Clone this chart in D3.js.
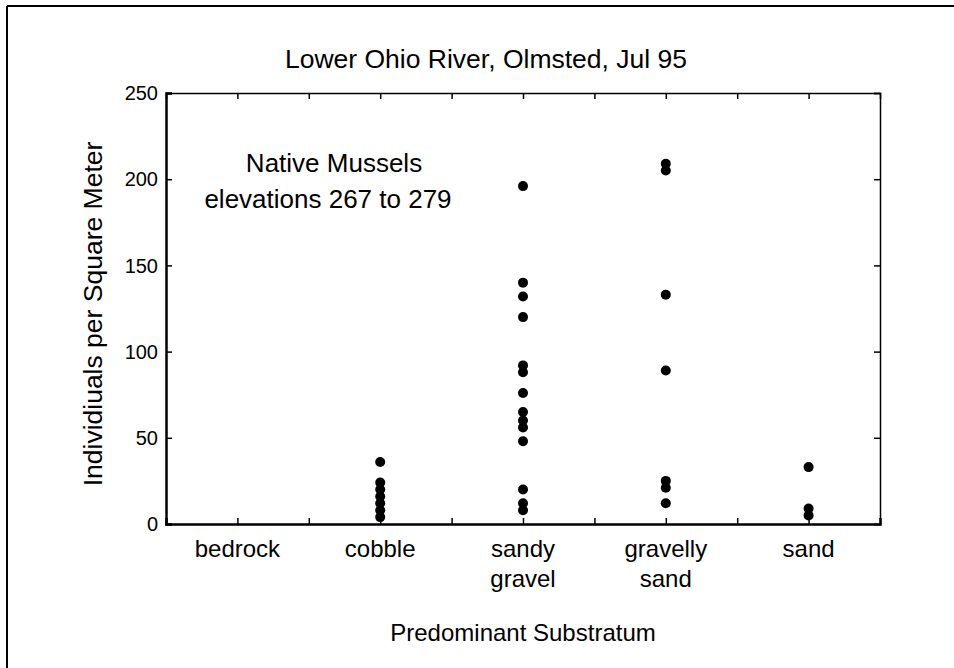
<!DOCTYPE html>
<html>
<head>
<meta charset="utf-8">
<script src="https://cdn.jsdelivr.net/npm/d3@7"></script>
<style>
  body { margin: 0; background: #fff; }
  svg text { font-family: Arial, "Liberation Sans", Helvetica, sans-serif; fill: #000; }
</style>
</head>
<body>
<div id="chart"></div>
<script>
// categories sit on the odd positions of a 0..10 axis
const categories = ["bedrock", "cobble", "sandy gravel", "gravelly sand", "sand"];
const categoryPos = [1, 3, 5, 7, 9];

// densities, one array per substratum
const bedrock = [];
const cobble = [36, 24, 20, 16, 12, 8, 4];
const sandyGravel = [196, 140, 132, 120, 92, 88, 76, 65, 60, 56, 48, 20, 12, 8];
const gravellySand = [209, 205, 133, 89, 25, 21, 12];
const sand = [33, 9, 5];

const yTicks = [0, 50, 100, 150, 200, 250];

const width = 954, height = 668;
const margin = { top: 93, right: 74, bottom: 144, left: 166 };

const svg = d3.select("#chart").append("svg")
    .attr("width", width)
    .attr("height", height);

// outer frame, only top and left edges show
svg.append("line").attr("x1", 7).attr("x2", width).attr("y1", 6).attr("y2", 6)
    .attr("stroke", "#000").attr("stroke-width", 2);
svg.append("line").attr("x1", 7).attr("x2", 7).attr("y1", 6).attr("y2", height)
    .attr("stroke", "#000").attr("stroke-width", 2);

const x = d3.scaleLinear().domain([0, 10]).range([margin.left, width - margin.right]);
const y = d3.scaleLinear().domain([0, 250]).range([height - margin.bottom, margin.top]);

const xTickVals = d3.range(1, 10);

// axes, ticks pointing into the plot
svg.append("g")
    .attr("transform", "translate(0," + y(0) + ")")
    .call(d3.axisTop(x).tickValues(xTickVals).tickSize(6).tickFormat(""))
    .call(g => g.select(".domain").attr("stroke-width", 2.5));

svg.append("g")
    .attr("transform", "translate(0," + y(250) + ")")
    .call(d3.axisBottom(x).tickValues(xTickVals).tickSize(6).tickFormat(""))
    .call(g => g.select(".domain").attr("stroke-width", 1.5));

svg.append("g")
    .attr("transform", "translate(" + x(0) + ",0)")
    .call(d3.axisRight(y).tickValues(yTicks).tickSize(6).tickFormat(""))
    .call(g => g.select(".domain").attr("stroke-width", 2.5));

svg.append("g")
    .attr("transform", "translate(" + x(10) + ",0)")
    .call(d3.axisLeft(y).tickValues(yTicks).tickSize(6).tickFormat(""))
    .call(g => g.select(".domain").attr("stroke-width", 1.5));

svg.selectAll("g.tick line").attr("stroke-width", 1.5);
svg.selectAll(".domain").attr("stroke", "#000");

// y tick labels
svg.append("g").selectAll("text")
    .data(yTicks)
    .join("text")
    .attr("x", x(0) - 8)
    .attr("y", d => y(d))
    .attr("dy", "0.36em")
    .attr("text-anchor", "end")
    .style("font-size", "20px")
    .text(d => d);

// category labels, split on the space
const catLabels = svg.append("g").selectAll("text")
    .data(categories)
    .join("text")
    .attr("x", (d, i) => x(categoryPos[i]))
    .attr("y", 557)
    .attr("text-anchor", "middle")
    .style("font-size", "24px");

catLabels.selectAll("tspan")
    .data(d => d.split(" "))
    .join("tspan")
    .attr("x", function () { return d3.select(this.parentNode).attr("x"); })
    .attr("dy", (d, i) => i === 0 ? 0 : 30)
    .text(d => d);

// points
const series = [bedrock, cobble, sandyGravel, gravellySand, sand];
const points = [];
series.forEach((vals, i) => vals.forEach(v => points.push({ pos: categoryPos[i], value: v })));

svg.append("g").selectAll("circle")
    .data(points)
    .join("circle")
    .attr("cx", d => x(d.pos))
    .attr("cy", d => y(d.value))
    .attr("r", 5)
    .attr("fill", "#000");

// texts
svg.append("text")
    .attr("x", 486)
    .attr("y", 68)
    .attr("text-anchor", "middle")
    .style("font-size", "26.5px")
    .text("Lower Ohio River, Olmsted, Jul 95");

svg.append("text")
    .attr("x", 334)
    .attr("y", 172)
    .attr("text-anchor", "middle")
    .style("font-size", "26px")
    .text("Native Mussels");

svg.append("text")
    .attr("x", 328)
    .attr("y", 208)
    .attr("text-anchor", "middle")
    .style("font-size", "26px")
    .text("elevations 267 to 279");

svg.append("text")
    .attr("x", x(5))
    .attr("y", 641)
    .attr("text-anchor", "middle")
    .style("font-size", "24px")
    .text("Predominant Substratum");

svg.append("text")
    .attr("transform", "translate(102,314) rotate(-90)")
    .attr("text-anchor", "middle")
    .style("font-size", "26.5px")
    .text("Individiuals per Square Meter");
</script>
</body>
</html>
